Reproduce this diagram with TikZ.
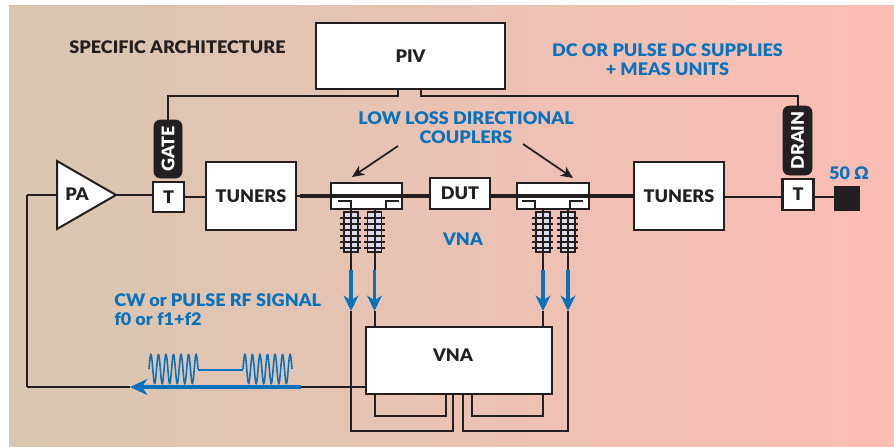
\documentclass[tikz,border=0pt]{standalone}
\usepackage{fontspec}
\setmainfont{Lato}[BoldFont={Lato Black},BoldFeatures={FakeStretch=1.04}]
\usetikzlibrary{arrows.meta}
\definecolor{ink}{HTML}{231F20}
\definecolor{blu}{HTML}{0A72BC}
\definecolor{lav}{HTML}{DADAEE}
\definecolor{bgl}{RGB}{216,199,177}
\definecolor{bgm}{RGB}{235,195,176}
\definecolor{bgr}{RGB}{251,189,180}
\tikzset{
  sz/.style 2 args={minimum width=#1*0.75pt,minimum height=#2*0.75pt,inner sep=0pt,outer sep=0pt},
  box/.style={draw=ink,fill=white,line width=1.6pt,text=ink,font=\fontsize{13}{14}\selectfont\bfseries},
  pill/.style={draw=ink,fill=ink,rounded corners=4.5pt,text=white,rotate=90,font=\fontsize{13}{14}\selectfont\bfseries},
  wire/.style={draw=ink,line width=1.5pt},
  fine/.style={draw=ink,line width=1.3pt},
  main/.style={draw=ink,line width=2.8pt},
  bluetxt/.style={text=blu,font=\fontsize{13}{14.5}\selectfont\bfseries,align=center,inner sep=0pt},
  blktxt/.style={text=ink,font=\fontsize{13}{14}\selectfont\bfseries,inner sep=0pt},
  bluearrow/.style={draw=blu,line width=2.4pt,-{Stealth[length=11.5pt,width=11pt,inset=3.5pt]}},
  callout/.style={draw=ink,line width=1.3pt,-{Stealth[length=9pt,width=8pt,inset=2.5pt]}},
  burst/.style={draw=blu,line width=1.2pt},
  ferr/.style={draw=ink,fill=lav,line width=1.3pt,sz={14}{40}},
  tick/.style={draw=ink,line width=1.2pt}
}
\newcommand{\ferrite}[2]{%
  \node[ferr] (#1) at (#2,232) {};
  \foreach \yy in {218,224,230,236,242,248}
    \draw[tick] (#2-11,\yy) -- (#2+10,\yy);
}
\begin{document}
\begin{tikzpicture}[x=0.75pt,y=-0.75pt]
\useasboundingbox (0,0) rectangle (894,447);
\fill[white] (0,0) rectangle (894,447);
\fill[left color=bgl,middle color=bgm,right color=bgr,shading angle=90] (9,5) rectangle (894,447);

% nodes
\node[box,sz={189}{66}] (piv) at (410.5,56) {PIV};
\node[pill,sz={58}{28}] (gate) at (168,149) {GATE};
\node[pill,sz={69}{29}] (drain) at (797.5,140.5) {DRAIN};
\node[box,sz={31}{30}] (tl) at (168.5,197) {T};
\node[box,sz={31}{31}] (tr) at (798,194.5) {T};
\node[box,sz={90}{68}] (tunl) at (251,196) {TUNERS};
\node[box,sz={90}{68}] (tunr) at (679,196) {TUNERS};
\node[draw=ink,fill=ink,sz={25}{24}] (load) at (846.5,198) {};
\coordinate (pa1) at (57,161);
\coordinate (pa2) at (57,229);
\coordinate (patip) at (116,195);
\coordinate (fbk) at (27,195);
\coordinate (fbkb) at (27,387);

% control and low-power wiring
\coordinate (pivl) at (398,96);
\coordinate (pivr) at (420.5,96);
\draw[wire] (piv.south -| pivl) -- (pivl) -| (gate.east);
\draw[wire] (piv.south -| pivr) -- (pivr) -| (drain.east);
\draw[wire] (fbk) -- (pa1 |- fbk);
\draw[wire] (fbk) -- (fbkb);
\draw[wire] (patip) -- (tl.west |- patip);
\draw[wire] (tl.east) -- (tunl.west |- tl.east);
\draw[main,line width=2.2pt] (tunr.east |- 0,197) -- (tr.west |- 0,197);
\draw[main,line width=2.2pt] (tr.east |- 0,197) -- (load.west |- 0,197);

% couplers
\node[box,sz={71}{26}] (cl) at (366.5,196) {};
\node[box,sz={72}{26}] (cr) at (553,196) {};
\draw[wire] (tunl.east |- 0,196) -- (300,196);
\draw[main] (300,196) -- (tunr.west |- 0,196);
\node[box,sz={60}{31}] (dut) at (460,193.5) {DUT};
\draw[fine] (338,201) -- (351,201) -- (351,209);
\draw[fine] (399,201) -- (386,201) -- (386,209);
\draw[fine] (522,201) -- (535,201) -- (535,209);
\draw[fine] (583,201) -- (570,201) -- (570,209);

% lines through the ferrites, to the VNA
\node[box,sz={186}{67}] (vna) at (459,360.5) {};
\coordinate (xa) at (351,270);
\coordinate (xb) at (374.5,270);
\coordinate (xc) at (543,270);
\coordinate (xd) at (568,270);
\ferrite{f1}{351}
\ferrite{f2}{374.5}
\ferrite{f3}{543}
\ferrite{f4}{568}
\foreach \c/\src in {xa/cl,xb/cl,xc/cr,xd/cr}
  \draw[wire] (\src.south -| \c) -- (\c);
\coordinate (ya) at (351,311);
\coordinate (yb) at (374.5,311);
\coordinate (yc) at (543,311);
\coordinate (yd) at (568,311);
\draw[wire] (ya) -- (351,431) -- (453,431) -- (453,394);
\draw[wire] (yd) -- (568,431) -- (463,431) -- (463,394);
\draw[wire] (yb) -- (vna.north -| yb);
\draw[wire] (yc) -- (vna.north -| yc);
\draw[wire] (vna.south -| yb) -- (374.5,416) -- (446,416) -- (446,394);
\draw[wire] (vna.south -| yc) -- (543,416) -- (472,416) -- (472,394);
\foreach \p/\q in {xa/ya,xb/yb,xc/yc,xd/yd}
  \draw[bluearrow] (\p) -- (\q);
\node[box,sz={186}{67}] at (vna) {};
\node[blktxt] (vnat) at (453,355) {VNA};

% amplifier
\draw[fill=white,draw=ink,line width=1.5pt,line join=miter] (pa1) -- (patip) -- (pa2) -- cycle;
\node[blktxt] (pa) at (77,194) {PA};

% RF signal
\coordinate (rfa) at (366,387);
\coordinate (rfb) at (301,387);
\coordinate (rfc) at (130,387);
\draw[wire] (rfa) -- (rfb);
\draw[wire] (rfc) -- (fbkb);
\draw[draw=blu,line width=2.4pt,-{Stealth[length=13pt,width=12pt,inset=4pt]}] (rfb) -- (rfc);
\draw[burst,smooth,samples=160,domain=0:49] plot ({149+\x},{369-14.5*sin(\x/49*360*6.5)});
\draw[burst,smooth,samples=160,domain=0:49] plot ({243+\x},{369-14.5*sin(\x/49*360*6.5)});
\draw[burst,line width=.9pt] (198,370) -- (243,370);

% texts
\node[blktxt] (t1) at (177.5,47) {SPECIFIC ARCHITECTURE};
\node[bluetxt] (t2) at (667.5,59.5) {DC OR PULSE DC SUPPLIES\\+ MEAS UNITS};
\node[bluetxt] (t3) at (466,128) {LOW LOSS DIRECTIONAL\\COUPLERS};
\node[bluetxt] (t4) at (463,239) {VNA};
\node[bluetxt,align=left,anchor=west] (t5) at (114,310) {CW or PULSE RF SIGNAL\\f0 or f1+f2};
\node[bluetxt] (t6) at (849,173) {50 Ω};

% callouts
\coordinate (la) at (398,146);
\coordinate (lb) at (352,177);
\coordinate (ra) at (523,144);
\coordinate (rb) at (573,178);
\draw[callout] (la) -- (lb);
\draw[callout] (ra) -- (rb);
\end{tikzpicture}
\end{document}
